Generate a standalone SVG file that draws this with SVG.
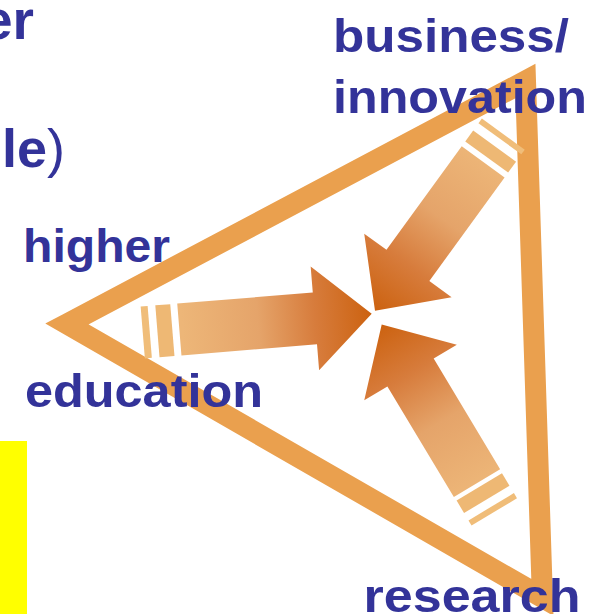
<svg xmlns="http://www.w3.org/2000/svg" width="599" height="614" viewBox="0 0 599 614">
  <style>
    .label { font-family: "Liberation Sans", Arial, sans-serif; font-weight: bold; font-size: 46px; fill: #333399; }
    .frame { fill: none; stroke: #EAA04E; stroke-width: 21; stroke-linejoin: miter; stroke-miterlimit: 10; }
    .shaft { fill: url(#flow); }
    .band1 { fill: #EEB874; }
    .band2 { fill: #F0BD79; }
  </style>
  <defs>
    <!-- shading along each arrow, in the arrow's local frame (tip at 0,0 pointing +x) -->
    <linearGradient id="flow" gradientUnits="userSpaceOnUse" x1="-190" y1="0" x2="0" y2="0">
      <stop offset="0" stop-color="#EDB678"/>
      <stop offset="0.4" stop-color="#E5A46A"/>
      <stop offset="0.7" stop-color="#D77C3C"/>
      <stop offset="1" stop-color="#CC6210"/>
    </linearGradient>
  </defs>

  <rect x="0" y="441" width="27" height="173" fill="#FFFF00"/>

  <!-- partial text at the left edge -->
  <text class="label" x="34" y="38.5" text-anchor="end" style="font-size:55px">er</text>
  <text class="label" x="65" y="167" text-anchor="end" style="font-size:54px">le<tspan font-weight="normal">)</tspan></text>

  <!-- triangle frame -->
  <g id="frame">
    <path class="frame" d="M67,324 L525.5,81 L542.4,597.4 Z"/>
  </g>

  <!-- converging arrows -->
  <g id="arrows">
    <g id="arrow-education" transform="translate(371.7,313.8) rotate(-4.66)">
      <path class="shaft" d="M0,0 L-57,-52 L-57,-26 L-193,-26 L-193,26 L-57,26 L-57,52 Z"/>
      <rect class="band1" x="-215" y="-26" width="15" height="52"/>
      <rect class="band2" x="-229.7" y="-26" width="7" height="52"/>
    </g>
    <g id="arrow-business" transform="translate(375,310.7) rotate(126)">
      <path class="shaft" d="M0,0 L-56,-54 L-56,-26.5 L-184,-26.5 L-184,26.5 L-56,26.5 L-56,54 Z"/>
      <rect class="band1" x="-203.5" y="-26.5" width="13.5" height="53"/>
      <rect class="band2" x="-218.3" y="-26.5" width="5.8" height="53"/>
    </g>
    <g id="arrow-research" transform="translate(381.7,324.5) rotate(-121)">
      <path class="shaft" d="M0,0 L-56,-54 L-56,-27 L-185,-27 L-185,27 L-56,27 L-56,54 Z"/>
      <rect class="band1" x="-204" y="-26.5" width="14.5" height="53"/>
      <rect class="band2" x="-218.6" y="-26.5" width="6" height="53"/>
    </g>
  </g>

  <!-- corner labels -->
  <g id="label-business">
    <text class="label" x="333" y="51.5" textLength="236" lengthAdjust="spacingAndGlyphs">business/</text>
    <text class="label" x="333" y="113" textLength="254" lengthAdjust="spacingAndGlyphs">innovation</text>
  </g>
  <g id="label-higher-education">
    <text class="label" x="23" y="261.7" textLength="147" lengthAdjust="spacingAndGlyphs">higher</text>
    <text class="label" x="25" y="406.7" textLength="238" lengthAdjust="spacingAndGlyphs">education</text>
  </g>
  <g id="label-research">
    <text class="label" x="363.5" y="611.5" textLength="217" lengthAdjust="spacingAndGlyphs">research</text>
  </g>
</svg>
